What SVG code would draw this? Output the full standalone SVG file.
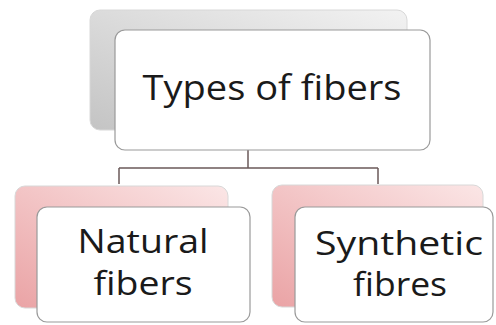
<svg xmlns="http://www.w3.org/2000/svg" width="496" height="325" viewBox="0 0 496 325">
<defs>
<linearGradient id="gGray" x1="1" y1="0" x2="0" y2="1">
<stop offset="0" stop-color="#f2f2f2"/>
<stop offset="1" stop-color="#c4c4c4"/>
</linearGradient>
<linearGradient id="gPink" x1="1" y1="0" x2="0" y2="1">
<stop offset="0" stop-color="#fbe6e6"/>
<stop offset="1" stop-color="#eaa3a5"/>
</linearGradient>
</defs>
<style>
.back{stroke:#d8d8d8;stroke-width:1}
.front{fill:#ffffff;stroke:#9a9a9a;stroke-width:1.2}
.lbl{font-family:"Open Sans","Liberation Sans",sans-serif;fill:#1a1a1a;text-anchor:middle}
.conn{fill:none;stroke:#6b5a5a;stroke-width:1.5}
</style>
<rect width="496" height="325" fill="#ffffff"/>
<g id="connectors">
<path class="conn" d="M248,150 V168 M119,168 H378 M119,168 V184 M378,168 V184"/>
</g>
<g id="types">
<rect class="back" x="90" y="10" width="317" height="120" rx="10" fill="url(#gGray)"/>
<rect class="front" x="115" y="30" width="315" height="120" rx="10"/>
<text class="lbl" x="272" y="100" font-size="35" textLength="259" lengthAdjust="spacingAndGlyphs">Types of fibers</text>
</g>
<g id="natural">
<rect class="back" x="15" y="186" width="213" height="122" rx="10" fill="url(#gPink)"/>
<rect class="front" x="37" y="207" width="213" height="115" rx="10"/>
<text class="lbl" x="143" y="253" font-size="32" textLength="131" lengthAdjust="spacingAndGlyphs">Natural</text>
<text class="lbl" x="143" y="295" font-size="32" textLength="99" lengthAdjust="spacingAndGlyphs">fibers</text>
</g>
<g id="synthetic">
<rect class="back" x="272" y="185" width="211" height="122" rx="10" fill="url(#gPink)"/>
<rect class="front" x="295" y="207" width="198" height="115" rx="10"/>
<text class="lbl" x="399" y="255" font-size="32" textLength="168" lengthAdjust="spacingAndGlyphs">Synthetic</text>
<text class="lbl" x="400" y="296" font-size="32" textLength="94" lengthAdjust="spacingAndGlyphs">fibres</text>
</g>
</svg>
